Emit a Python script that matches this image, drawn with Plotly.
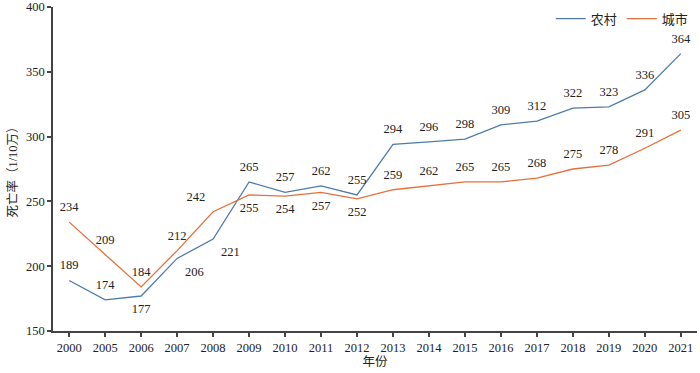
import plotly.graph_objects as go

years = ["2000", "2005", "2006", "2007", "2008", "2009", "2010", "2011", "2012",
         "2013", "2014", "2015", "2016", "2017", "2018", "2019", "2020", "2021"]
rural = [189, 174, 177, 206, 221, 265, 257, 262, 255, 294, 296, 298, 309, 312, 322, 323, 336, 364]
urban = [234, 209, 184, 212, 242, 255, 254, 257, 252, 259, 262, 265, 265, 268, 275, 278, 291, 305]

rural_pos = ["top center", "top center", "bottom center", "bottom right", "bottom right"] + ["top center"] * 13
urban_pos = ["top center", "top center", "top center", "top center", "top left",
             "bottom center", "bottom center", "bottom center", "bottom center"] + ["top center"] * 9

BLUE = "#4d7cab"
ORANGE = "#e6703c"
FONT = "Liberation Serif, Noto Sans CJK SC, serif"

fig = go.Figure()
for name, vals, pos, col in [("农村", rural, rural_pos, BLUE), ("城市", urban, urban_pos, ORANGE)]:
    fig.add_trace(go.Scatter(x=years, y=vals, name=name, mode="lines+markers+text",
                             line=dict(color=col, width=1.3),
                             marker=dict(size=11, opacity=0),
                             text=[str(v) for v in vals], textposition=pos,
                             textfont=dict(size=12.5, color="#222", family=FONT),
                             cliponaxis=False, showlegend=False))
    # legend entry showing only a line
    fig.add_trace(go.Scatter(x=[None], y=[None], name=name, mode="lines",
                             line=dict(color=col, width=1.3), showlegend=True))

fig.update_layout(
    width=700, height=373,
    margin=dict(l=53, r=3, t=7, b=42),
    paper_bgcolor="white", plot_bgcolor="white",
    font=dict(family=FONT, size=12.5, color="#222"),
    legend=dict(orientation="h", x=0.995, xanchor="right", y=1.01, yanchor="top",
                font=dict(size=13, family=FONT), bgcolor="rgba(0,0,0,0)",
                itemwidth=30, tracegroupgap=0),
    xaxis=dict(type="category", range=[-0.45, 17.45], showline=True, linecolor="#444",
               linewidth=1.6, ticks="outside", ticklen=4, tickcolor="#444", tickwidth=1.5,
               showgrid=False, zeroline=False, automargin=False,
               title=dict(text="年份", standoff=2, font=dict(size=12.5))),
    yaxis=dict(range=[150, 400], tickvals=[150, 200, 250, 300, 350, 400],
               showline=True, linecolor="#444", linewidth=1.6, ticks="outside",
               ticklen=4, tickcolor="#444", tickwidth=1.5, showgrid=False, zeroline=False,
               automargin=False,
               title=dict(text="死亡率（1/10万）", standoff=6, font=dict(size=12.5))),
)

fig.write_html("out.html", config={"displayModeBar": False},
               post_script="document.body.style.margin='0';")
